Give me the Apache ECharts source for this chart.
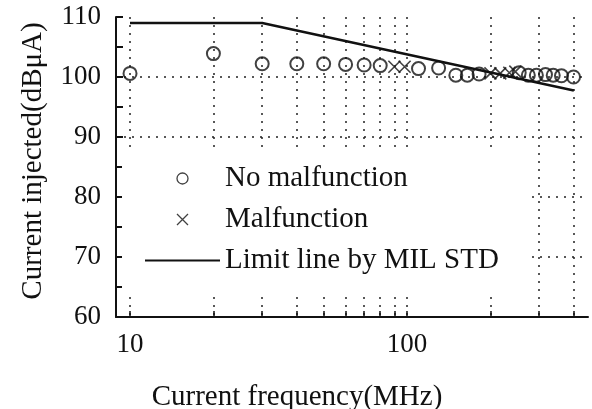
<!DOCTYPE html>
<html>
<head>
<meta charset="utf-8">
<script src="https://cdn.jsdelivr.net/npm/echarts@6/dist/echarts.min.js"></script>
<style>
html, body { margin: 0; padding: 0; background: #fff; }
#main { width: 592px; height: 409px; }
</style>
</head>
<body>
<div id="main"></div>
<script>
// values: frequency in MHz, current in dBuA
var noMalfFreq  = [10, 20, 30, 40, 50, 60, 70, 80, 110, 130, 150, 165, 182, 254, 274, 293, 316, 337, 361, 399];
var noMalfLevel = [100.6, 103.9, 102.2, 102.2, 102.2, 102.1, 102.0, 101.9, 101.4, 101.5, 100.3, 100.3, 100.5, 100.7, 100.3, 100.3, 100.4, 100.3, 100.2, 100.0];
var malfFreq  = [90, 98, 200, 217, 234, 246];
var malfLevel = [101.7, 101.7, 100.6, 100.6, 100.7, 100.9];
var limitFreq  = [10, 30, 400];
var limitLevel = [109, 109, 97.75];

var gridFreq = [10, 20, 30, 40, 50, 60, 70, 80, 90, 100, 200, 300, 400];
var xLabelFreq = [10, 100];

var FONT = 'Liberation Serif';
var INK = '#111';

function pairs(xs, ys) {
  return xs.map(function (x, i) { return [x, ys[i]]; });
}

var chart = echarts.init(document.getElementById('main'));
chart.setOption({
  animation: false,
  backgroundColor: '#fff',
  grid: { left: 116, top: 17, width: 472, height: 300, outerBoundsMode: 'none' },
  legend: {
    orient: 'vertical',
    left: 122,
    top: 148,
    padding: [16, 30, 22, 22],
    backgroundColor: '#fff',
    itemWidth: 75,
    itemHeight: 11,
    itemGap: 12,
    textStyle: { fontFamily: FONT, fontSize: 29, lineHeight: 28, color: INK },
    data: [
      { name: 'No malfunction', itemStyle: { borderWidth: 1.3 } },
      { name: 'Malfunction', itemStyle: { borderWidth: 1.3 } },
      { name: 'Limit line by MIL STD', itemStyle: { color: 'transparent', borderColor: 'transparent', borderWidth: 0 } }
    ]
  },
  xAxis: {
    type: 'log',
    logBase: 10,
    min: 8.9,
    max: 450,
    name: 'Current frequency(MHz)',
    nameLocation: 'middle',
    nameGap: 66,
    nameTextStyle: { fontFamily: FONT, fontSize: 29, color: INK, padding: [0, 110, 0, 0] },
    axisLine: { lineStyle: { color: INK, width: 2 } },
    axisTick: { inside: true, length: 6, lineStyle: { color: INK, width: 1.5 }, customValues: gridFreq },
    axisLabel: { fontFamily: FONT, fontSize: 27, color: INK, margin: 14, customValues: xLabelFreq },
    splitLine: { show: true, lineStyle: { color: '#222', width: 1.5, type: [2, 6] } }
  },
  yAxis: {
    type: 'value',
    min: 60,
    max: 110,
    interval: 10,
    name: 'Current injected(dBμA)',
    nameLocation: 'middle',
    nameRotate: 90,
    nameGap: 68,
    nameTextStyle: { fontFamily: FONT, fontSize: 29, color: INK, padding: [0, 0, 0, 12] },
    axisLine: { show: true, lineStyle: { color: INK, width: 2 } },
    axisTick: { inside: true, length: 7, lineStyle: { color: INK, width: 2 } },
    minorTick: { show: true, splitNumber: 2, length: 7, lineStyle: { color: INK, width: 2 } },
    axisLabel: { fontFamily: FONT, fontSize: 27, color: INK, margin: 15 },
    splitLine: { show: true, showMinLine: false, showMaxLine: false, lineStyle: { color: '#222', width: 1.5, type: [2, 6] } }
  },
  series: [
    {
      name: 'No malfunction',
      type: 'scatter',
      symbol: 'circle',
      symbolSize: 13,
      itemStyle: { color: 'transparent', borderColor: INK, borderWidth: 2 },
      data: pairs(noMalfFreq, noMalfLevel),
      z: 3
    },
    {
      name: 'Malfunction',
      type: 'scatter',
      symbol: 'path://M0,0L10,10M10,0L0,10',
      symbolSize: 12,
      itemStyle: { color: 'transparent', borderColor: INK, borderWidth: 1.6 },
      data: pairs(malfFreq, malfLevel),
      z: 3
    },
    {
      name: 'Limit line by MIL STD',
      type: 'line',
      symbol: 'none',
      lineStyle: { color: INK, width: 2.5 },
      itemStyle: { color: INK },
      data: pairs(limitFreq, limitLevel),
      z: 2
    }
  ]
});
</script>
</body>
</html>
